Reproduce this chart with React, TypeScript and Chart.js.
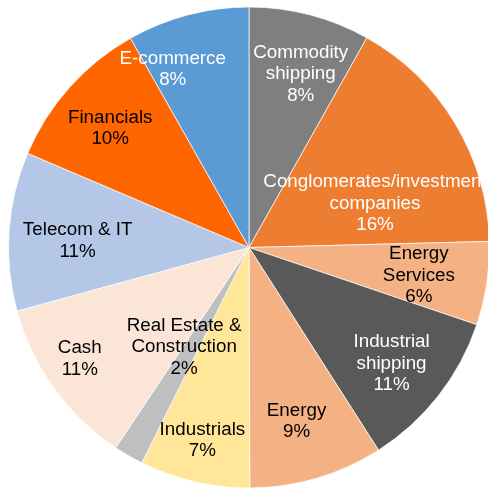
import React, { useEffect, useRef } from "react";
import { Chart, registerables } from "chart.js";

Chart.register(...registerables);

const categories: string[][] = [
  ["Commodity", "shipping"],
  ["Conglomerates/investment", "companies"],
  ["Energy", "Services"],
  ["Industrial", "shipping"],
  ["Energy"],
  ["Industrials"],
  ["Real Estate &", "Construction"],
  ["Cash"],
  ["Telecom & IT"],
  ["Financials"],
  ["E-commerce"],
];

const shares: number[] = [8.15, 16.45, 5.6, 10.75, 9.0, 7.4, 2.0, 11.4, 10.65, 10.4, 8.2];

const sliceColors: string[] = [
  "#7f7f7f",
  "#ed7d31",
  "#f4b183",
  "#595959",
  "#f4b183",
  "#ffe699",
  "#bfbfbf",
  "#fbe5d6",
  "#b4c7e7",
  "#ff6600",
  "#5b9bd5",
];

const labelColors: string[] = [
  "#ffffff",
  "#ffffff",
  "#000000",
  "#ffffff",
  "#000000",
  "#000000",
  "#000000",
  "#000000",
  "#000000",
  "#000000",
  "#ffffff",
];

// label placement: [angle in degrees clockwise from top, fraction of radius]
const labelPlacement: number[][] = [
  [16.6, 0.753],
  [70.75, 0.555],
  [99.45, 0.716],
  [129.2, 0.765],
  [164.7, 0.75],
  [193.6, 0.824],
  [213.1, 0.494],
  [236.7, 0.842],
  [272.3, 0.713],
  [310.6, 0.76],
  [336.8, 0.805],
];

const FONT = '18.8px "Liberation Sans", Arial, sans-serif';
const LINE_H = 21.5;

const labelPlugin = {
  id: "sliceLabels",
  afterDatasetsDraw(chart: any) {
    const meta = chart.getDatasetMeta(0);
    if (!meta || !meta.data.length) return;
    const arc0 = meta.data[0];
    const cx = arc0.x;
    const cy = arc0.y;
    const r = arc0.outerRadius;
    const data = chart.data.datasets[0].data as number[];
    const total = data.reduce((a: number, b: number) => a + b, 0);
    const ctx = chart.ctx;
    ctx.save();
    ctx.font = FONT;
    ctx.textAlign = "center";
    ctx.textBaseline = "middle";
    meta.data.forEach((_: any, i: number) => {
      const [deg, frac] = labelPlacement[i];
      const a = (deg * Math.PI) / 180;
      const x = cx + Math.sin(a) * r * frac;
      const y = cy - Math.cos(a) * r * frac;
      const lines = [...categories[i], Math.round((data[i] / total) * 100) + "%"];
      const startY = y - ((lines.length - 1) * LINE_H) / 2;
      ctx.fillStyle = labelColors[i];
      lines.forEach((ln, k) => {
        ctx.fillText(ln, x, startY + k * LINE_H);
      });
    });
    ctx.restore();
  },
};

export default function App() {
  const ref = useRef<HTMLCanvasElement | null>(null);
  useEffect(() => {
    document.body.style.margin = "0";
    if (!ref.current) return;
    const chart = new Chart(ref.current, {
      type: "pie",
      data: {
        labels: categories.map((c) => c.join(" ")),
        datasets: [
          {
            data: shares,
            backgroundColor: sliceColors,
            borderColor: "rgba(255,255,255,0.7)",
            borderWidth: 1,
          },
        ],
      },
      options: {
        responsive: false,
        animation: false,
        layout: { padding: { left: 8, right: 6, top: 6, bottom: 0 } },
        plugins: {
          legend: { display: false },
          tooltip: { enabled: false },
        },
      },
      plugins: [labelPlugin],
    });
    return () => chart.destroy();
  }, []);
  return (
    <div style={{ width: 488, height: 489, overflow: "hidden", position: "relative", background: "#fff" }}>
      <canvas ref={ref} width={496} height={489} style={{ position: "absolute", left: 0, top: 0 }} />
    </div>
  );
}
